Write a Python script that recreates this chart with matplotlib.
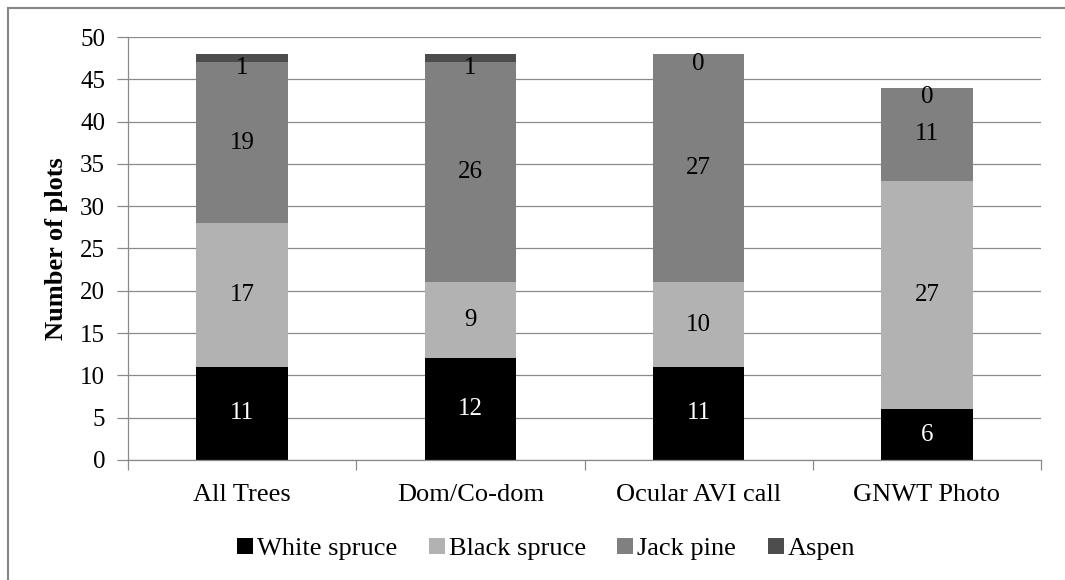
import numpy as np
import matplotlib.pyplot as plt
from matplotlib.patches import Patch
from matplotlib.lines import Line2D

plt.rcParams['font.family'] = ['Liberation Serif', 'DejaVu Serif']
plt.rcParams['font.size'] = 18

categories = ['All Trees', 'Dom/Co-dom', 'Ocular AVI call', 'GNWT Photo']
white_spruce = [11, 12, 11, 6]
black_spruce = [17, 9, 10, 27]
jack_pine = [19, 26, 27, 11]
aspen = [1, 1, 0, 0]

series = [('White spruce', white_spruce, '#000000', 'white'),
          ('Black spruce', black_spruce, '#b2b2b2', 'black'),
          ('Jack pine', jack_pine, '#808080', 'black'),
          ('Aspen', aspen, '#4d4d4d', 'black')]

grid_col = '#8a8a8a'

fig = plt.figure(figsize=(10.65, 5.8), dpi=100)
ax = fig.add_axes([128 / 1065, 1 - 460 / 580, 913 / 1065, 423 / 580])

x = np.arange(len(categories)) + 0.5
bottom = np.zeros(len(categories))
for name, vals, col, txtcol in series:
    vals = np.array(vals, dtype=float)
    ax.bar(x, vals, width=0.4, bottom=bottom, color=col, zorder=2)
    # segment labels; the slim top ones sit a little below the stack top
    for xi, b, v in zip(x, bottom, vals):
        if name == 'Aspen':
            ax.annotate(f'{int(v)}', (xi, b + v / 2), xytext=(0, -7),
                        textcoords='offset points', ha='center', va='center',
                        color=txtcol, fontsize=18, zorder=3)
        else:
            ax.text(xi, b + v / 2, f'{int(v)}', ha='center', va='center',
                    color=txtcol, fontsize=18, zorder=3)
    bottom += vals

ax.set_xlim(0, len(categories))
ax.set_ylim(0, 50)
ax.set_yticks(np.arange(0, 51, 5))
ax.yaxis.grid(True, color=grid_col, linewidth=0.9, zorder=0)
ax.set_axisbelow(True)

ax.set_xticks(np.arange(len(categories) + 1))
ax.set_xticklabels([])
ax.set_xticks(x, minor=True)
ax.set_xticklabels(categories, minor=True)
ax.tick_params(axis='x', which='major', length=7, width=0.9, color=grid_col, direction='out')
ax.tick_params(axis='x', which='minor', length=0, pad=17, labelsize=19)
ax.tick_params(axis='y', length=8, width=0.9, color=grid_col, pad=8.5, labelsize=18)

for side in ['top', 'right']:
    ax.spines[side].set_visible(False)
for side in ['left', 'bottom']:
    ax.spines[side].set_color(grid_col)
    ax.spines[side].set_linewidth(0.9)

ax.set_ylabel('Number of plots', fontweight='bold', fontsize=19)
ax.yaxis.label.set_va('center')
ax.yaxis.set_label_coords(-0.0778, 0.5)

handles = [Patch(facecolor=col, edgecolor='none', label=name) for name, _, col, _ in series]
fig.legend(handles=handles, loc='center', bbox_to_anchor=(546 / 1065, 1 - 549 / 580),
           ncol=4, frameon=False, fontsize=19, handlelength=0.6, handleheight=0.6,
           handletextpad=0.15, columnspacing=1.2)

# outer frame (top and left edges)
fig.add_artist(Line2D([8 / 1065, 1], [1 - 8 / 580, 1 - 8 / 580], color='#868686', linewidth=1.5))
fig.add_artist(Line2D([8 / 1065, 8 / 1065], [0, 1 - 8 / 580], color='#868686', linewidth=1.5))

fig.savefig('out.png', dpi=100)
